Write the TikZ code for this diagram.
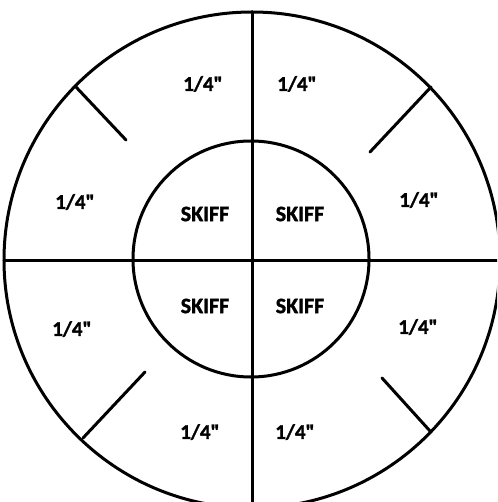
\documentclass[tikz,border=0pt]{standalone}
\usepackage{fontspec}
\setmainfont{Carlito}[Ligatures=TeXOff,BoldFeatures={FakeBold=1.5}]
\newcommand{\qt}{1/4"}
\begin{document}
\begin{tikzpicture}[x=1pt,y=-1pt,
  ln/.style={line width=3pt, line cap=round},
  lbl/.style={font=\bfseries\fontsize{21}{21}\selectfont, inner sep=0pt},
  sk/.style={font=\bfseries\fontsize{22}{22}\selectfont, inner sep=0pt}]
\useasboundingbox (0,0) rectangle (497,502);
\clip (0,0) rectangle (497,502);
\coordinate (c) at (252,260);
\coordinate (top) at (252,12);
\coordinate (bot) at (252,510);
\coordinate (lft) at (4,260);
\coordinate (rgt) at (500,260);
% circles
\draw[ln] (c) circle[radius=248];
\draw[ln] (251,259) circle[radius=118];
% cross
\draw[ln] (top) -- (bot);
\draw[ln] (lft) -- (rgt);
% ticks
\coordinate (ulo) at (76,87);   \coordinate (uli) at (126,140);
\coordinate (uro) at (431,87);  \coordinate (uri) at (370,152);
\coordinate (llo) at (83,438);  \coordinate (lli) at (145,372);
\coordinate (lro) at (430,431); \coordinate (lri) at (382,378);
\draw[ln] (ulo) -- (uli);
\draw[ln] (uro) -- (uri);
\draw[ln] (llo) -- (lli);
\draw[ln] (lro) -- (lri);
% labels
\node[lbl] (t1) at (203,84) {\qt};
\node[lbl] (t2) at (297,84) {\qt};
\node[lbl] (l1) at (75,202) {\qt};
\node[lbl] (l2) at (72,329) {\qt};
\node[lbl] (r1) at (419,200) {\qt};
\node[lbl] (r2) at (418,327) {\qt};
\node[lbl] (b1) at (200,432) {\qt};
\node[lbl] (b2) at (295,432) {\qt};
\node[sk] (s1) at (205,214) {SKIFF};
\node[sk] (s2) at (300,214) {SKIFF};
\node[sk] (s3) at (205,306) {SKIFF};
\node[sk] (s4) at (300,306) {SKIFF};
\end{tikzpicture}
\end{document}
